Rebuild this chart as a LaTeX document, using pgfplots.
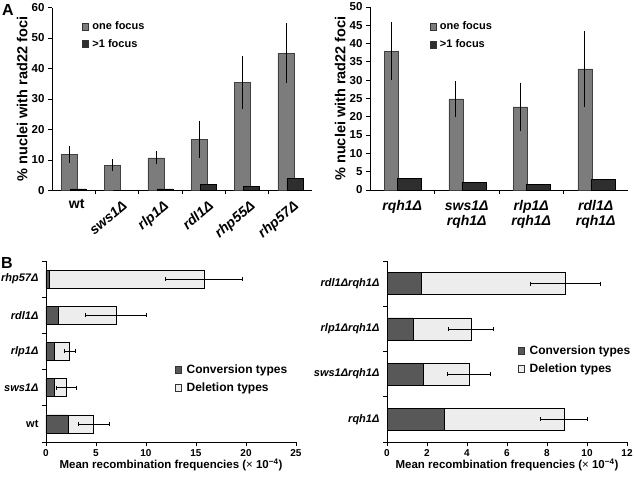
\documentclass[border=0pt]{standalone}
\usepackage{pgfplots}
\pgfplotsset{compat=1.18}
\usepackage{fontspec}
\setmainfont{Liberation Sans}
\definecolor{oneC}{HTML}{7C7C7C}
\definecolor{twoC}{HTML}{2E2E2E}
\definecolor{convC}{HTML}{585858}
\definecolor{delC}{HTML}{EDEDED}
\newcommand{\fsz}[1]{\fontsize{#1}{#1}\selectfont}
\newcommand{\rl}[1]{\rotatebox{40}{\textit{#1}}}
\pgfplotsset{
 myaxis/.style={scale only axis, axis x line*=bottom, axis y line*=left,
  tick align=outside, major tick length=4pt, minor tick length=4pt,
  axis line style={black, line width=0.8pt},
  every tick/.style={black, line width=0.8pt},
  /pgf/number format/assume math mode=true, clip=false,
  legend cell align=left},
 sqleg/.style={legend image code/.code={\draw[##1, draw=black!80, line width=0.4pt] (0pt,-3.5pt) rectangle (6pt,3.5pt);}},
 onestyle/.style={ybar, draw=black!75, line width=0.4pt, fill=oneC, sqleg},
 twostyle/.style={ybar, draw=black, line width=0.4pt, fill=twoC, sqleg},
 convstyle/.style={xbar, draw=black, line width=0.7pt, fill=convC, sqleg},
 delstyle/.style={xbar, draw=black, line width=0.7pt, fill=delC, sqleg},
 errA/.style={black, only marks, mark=*, mark size=0pt, forget plot, error bars/y dir=both, error bars/y explicit, error bars/error bar style={black, line width=0.6pt}, error bars/error mark options={black, line width=0.6pt, mark size=2pt}},
 errB/.style={black, only marks, mark=*, mark size=0pt, forget plot, error bars/x dir=both, error bars/x explicit, error bars/error bar style={black, line width=0.6pt}, error bars/error mark options={black, line width=0.6pt, mark size=2pt, rotate=90}},
}
\begin{document}
\begin{tikzpicture}
\useasboundingbox (0pt,0pt) rectangle (635pt,477pt);
\node[font=\bfseries\fsz{16}] at (8pt,467pt) {A};
\node[font=\bfseries\fsz{16}] at (7pt,214pt) {B};
% ---------------- A left
\begin{axis}[myaxis, at={(52pt,286.5pt)}, anchor=south west, width=260pt, height=183pt,
  xmin=-0.5, xmax=5.5, ymin=0, ymax=60, ytick={0,10,...,60},
  xtick={0,...,5},
  xticklabels={wt,\rl{sws1Δ},\rl{rlp1Δ},\rl{rdl1Δ},\rl{rhp55Δ},\rl{rhp57Δ}},
  minor xtick={0.5,1.5,...,4.5}, major x tick style={draw=none},
  yticklabel style={font=\bfseries\fsz{11.5}},
  xticklabel style={font=\bfseries\fsz{14}, anchor=north east, inner sep=0pt, xshift=11pt, yshift=-5pt},
  ylabel={\% nuclei with rad22 foci},
  ylabel style={at={(axis description cs:-0.115,0.5)}, anchor=center, font=\bfseries\fsz{14.5}},
  legend style={draw=none, fill=none, at={(0.115,0.935)}, anchor=north west, font=\bfseries\fsz{11}, row sep=4pt, inner sep=0pt, nodes={inner xsep=4pt}},
]
\addplot[onestyle, bar width=16pt, bar shift=-4.5pt] table[x=i,y=v] {
i v
0 11.8
1 8.3
2 10.7
3 16.8
4 35.4
5 45.0
};
\addlegendentry{one focus}
\addplot[twostyle, bar width=16pt, bar shift=4.5pt] table[x=i,y=v] {
i v
0 0.5
1 0.0
2 0.5
3 2.1
4 1.3
5 3.9
};
\addlegendentry{>1 focus}
\addplot[errA] table[x=i,y=v,y error=e] {
i v e
-0.104 11.8 2.0
0.896 8.3 1.3
1.896 10.7 1.5
2.896 16.8 5.4
3.896 35.4 7.9
4.896 45.0 9.1
};
\end{axis}
% ---------------- A right
\begin{axis}[myaxis, at={(370pt,287pt)}, anchor=south west, width=258pt, height=183pt,
  xmin=-0.5, xmax=3.5, ymin=0, ymax=50, ytick={0,5,...,50},
  xtick={0,...,3},
  xticklabels={\textit{rqh1Δ},\textit{sws1Δ}\\\textit{rqh1Δ},\textit{rlp1Δ}\\\textit{rqh1Δ},\textit{rdl1Δ}\\\textit{rqh1Δ}},
  minor xtick={0.5,1.5,2.5}, major x tick style={draw=none},
  yticklabel style={font=\bfseries\fsz{11.5}},
  xticklabel style={font=\bfseries\fontsize{14}{15}\selectfont, align=center, yshift=-3pt},
  ylabel={\% nuclei with rad22 foci},
  ylabel style={at={(axis description cs:-0.116,0.5)}, anchor=center, font=\bfseries\fsz{14.5}},
  legend style={draw=none, fill=none, at={(0.23,0.93)}, anchor=north west, font=\bfseries\fsz{11}, row sep=4pt, inner sep=0pt, nodes={inner xsep=4pt}},
]
\addplot[onestyle, bar width=14pt, bar shift=-11pt] table[x=i,y=v] {
i v
0 37.9
1 24.9
2 22.7
3 33.1
};
\addlegendentry{one focus}
\addplot[twostyle, bar width=24pt, bar shift=7pt] table[x=i,y=v] {
i v
0 3.2
1 2.1
2 1.5
3 2.9
};
\addlegendentry{>1 focus}
\addplot[errA] table[x=i,y=v,y error=e] {
i v e
-0.171 37.9 7.4
0.829 24.9 4.3
1.829 22.7 6.1
2.829 33.1 9.8
};
\end{axis}
% ---------------- B left
\begin{axis}[myaxis, at={(46pt,35pt)}, anchor=south west, width=250pt, height=181pt,
  xmin=0, xmax=25, xtick={0,5,...,25}, ymin=-0.5, ymax=4.5,
  ytick={0,...,4},
  yticklabels={wt,\textit{sws1Δ},\textit{rlp1Δ},\textit{rdl1Δ},\textit{rhp57Δ}},
  minor ytick={-0.5,0.5,...,4.5}, major y tick style={draw=none},
  xticklabel style={font=\bfseries\fsz{10}},
  yticklabel style={font=\bfseries\fsz{11}},
  xlabel={Mean recombination frequencies ({\mdseries ×} 10\textsuperscript{−4})},
  xlabel style={at={(axis description cs:0.5,-0.127)}, anchor=center, font=\bfseries\fsz{11.5}},
  reverse legend,
  legend style={draw=none, fill=none, at={(0.516,0.44)}, anchor=north west, font=\bfseries\fsz{12}, row sep=4pt, inner sep=0pt, nodes={inner xsep=5pt}},
]
\addplot[delstyle, bar width=18pt] table[x=v,y=i] {
i v
0 4.75
1 2.05
2 2.35
3 7.0
4 15.8
};
\addlegendentry{Deletion types}
\addplot[convstyle, bar width=18pt] table[x=v,y=i] {
i v
0 2.2
1 0.8
2 0.8
3 1.25
4 0.35
};
\addlegendentry{Conversion types}
\addplot[errB] table[x=v,y=i,x error=e] {
i v e
0 4.75 1.53
1 2.05 1.0
2 2.35 0.53
3 7.0 3.05
4 15.8 3.85
};
\end{axis}
% ---------------- B right
\begin{axis}[myaxis, at={(387pt,35pt)}, anchor=south west, width=240pt, height=181pt,
  xmin=0, xmax=12, xtick={0,2,...,12}, ymin=-0.5, ymax=3.5,
  ytick={0,...,3},
  yticklabels={\textit{rqh1Δ},\textit{sws1Δrqh1Δ},\textit{rlp1Δrqh1Δ},\textit{rdl1Δrqh1Δ}},
  minor ytick={-0.5,0.5,...,3.5}, major y tick style={draw=none},
  xticklabel style={font=\bfseries\fsz{10}},
  yticklabel style={font=\bfseries\fsz{11}},
  xlabel={Mean recombination frequencies ({\mdseries ×} 10\textsuperscript{−4})},
  xlabel style={at={(axis description cs:0.5,-0.127)}, anchor=center, font=\bfseries\fsz{11.5}},
  reverse legend,
  legend style={draw=none, fill=none, at={(0.546,0.545)}, anchor=north west, font=\bfseries\fsz{12}, row sep=4pt, inner sep=0pt, nodes={inner xsep=5pt}},
]
\addplot[delstyle, bar width=22pt] table[x=v,y=i] {
i v
0 8.85
1 4.1
2 4.2
3 8.9
};
\addlegendentry{Deletion types}
\addplot[convstyle, bar width=22pt] table[x=v,y=i] {
i v
0 2.85
1 1.82
2 1.32
3 1.7
};
\addlegendentry{Conversion types}
\addplot[errB] table[x=v,y=i,x error=e] {
i v e
0 8.85 1.18
1 4.1 1.08
2 4.2 1.12
3 8.9 1.76
};
\end{axis}
\end{tikzpicture}
\end{document}
